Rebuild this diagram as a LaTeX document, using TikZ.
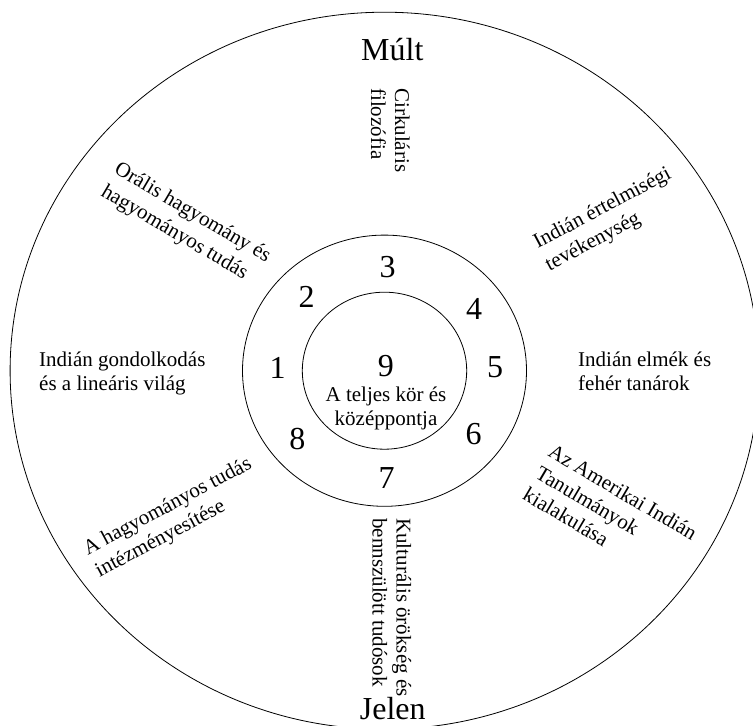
\documentclass[tikz,border=0pt]{standalone}
\usepackage{fontspec}
\setmainfont{Liberation Serif}
\begin{document}
\begin{tikzpicture}[x=1pt,y=-1pt,
  ring/.style={line width=0.8pt,draw=black},
  lbl/.style={font=\fontsize{21}{24}\selectfont,inner sep=0pt,align=left,
    execute at begin node=\strut,execute at end node=\strut},
  wide/.style={font=\fontsize{21}{25}\selectfont},
  wider/.style={font=\fontsize{21}{26}\selectfont},
  num/.style={font=\fontsize{32}{38}\selectfont,inner sep=0pt},
  title/.style={font=\fontsize{32}{38}\selectfont,inner sep=0pt,anchor=base}]
\useasboundingbox (0,0) rectangle (753,726);
\fill[white] (0,0) rectangle (753,726);
\clip (0,0) rectangle (753,726);
\coordinate (C) at (384.5,370.7);
% rings
\draw[ring] (C) ellipse [x radius=374.4pt,y radius=358.5pt];
\draw[ring] (C) ellipse [x radius=142pt,y radius=135.6pt];
\draw[ring] (C) ellipse [x radius=82.2pt,y radius=78.5pt];
% titles
\node[title] (mult) at (392.3,60.2) {Múlt};
\node[title] (jelen) at (392.8,719.3) {Jelen};
% numbers
\node[num] (n1) at (277.5,368.3) {1};
\node[num] (n2) at (306.7,297.3) {2};
\node[num] (n3) at (387.5,267.5) {3};
\node[num] (n4) at (474.2,309.2) {4};
\node[num] (n5) at (495,367.5) {5};
\node[num] (n6) at (473.7,434.2) {6};
\node[num] (n7) at (386.7,478.3) {7};
\node[num] (n8) at (297.3,439.2) {8};
\node[num] (n9) at (385.8,365.8) {9};
\node[lbl,align=center] (center) at (386,409.9) {A teljes kör és\\középpontja};
% outer labels
\node[lbl,anchor=north west] (l1) at (39,351.2) {Indián gondolkodás\\és a lineáris világ};
\node[lbl,anchor=north west] (l5) at (578,351.2) {Indián elmék és\\fehér tanárok};
\node[lbl,wider,anchor=north west,rotate=-30.5] (l2) at (120.7,159.8) {Orális hagyomány és\\hagyományos tudás};
\node[lbl,wide,anchor=north west,rotate=28] (l4) at (530.8,236) {Indián értelmiségi\\tevékenység};
\node[lbl,wide,anchor=north west,rotate=28] (l8) at (80.8,542.5) {A hagyományos tudás\\intézményesítése};
\node[lbl,wide,anchor=north west,rotate=-30.5] (l6) at (554.4,442.9) {Az Amerikai Indián\\Tanulmányok\\kialakulása};
\node[lbl,anchor=north west,rotate=-90] (l3) at (410,88) {Cirkuláris\\filozófia};
\node[lbl,anchor=north west,rotate=-90] (l7) at (411.5,518) {Kulturális örökség és\\bennszülött tudósok};
\end{tikzpicture}
\end{document}
